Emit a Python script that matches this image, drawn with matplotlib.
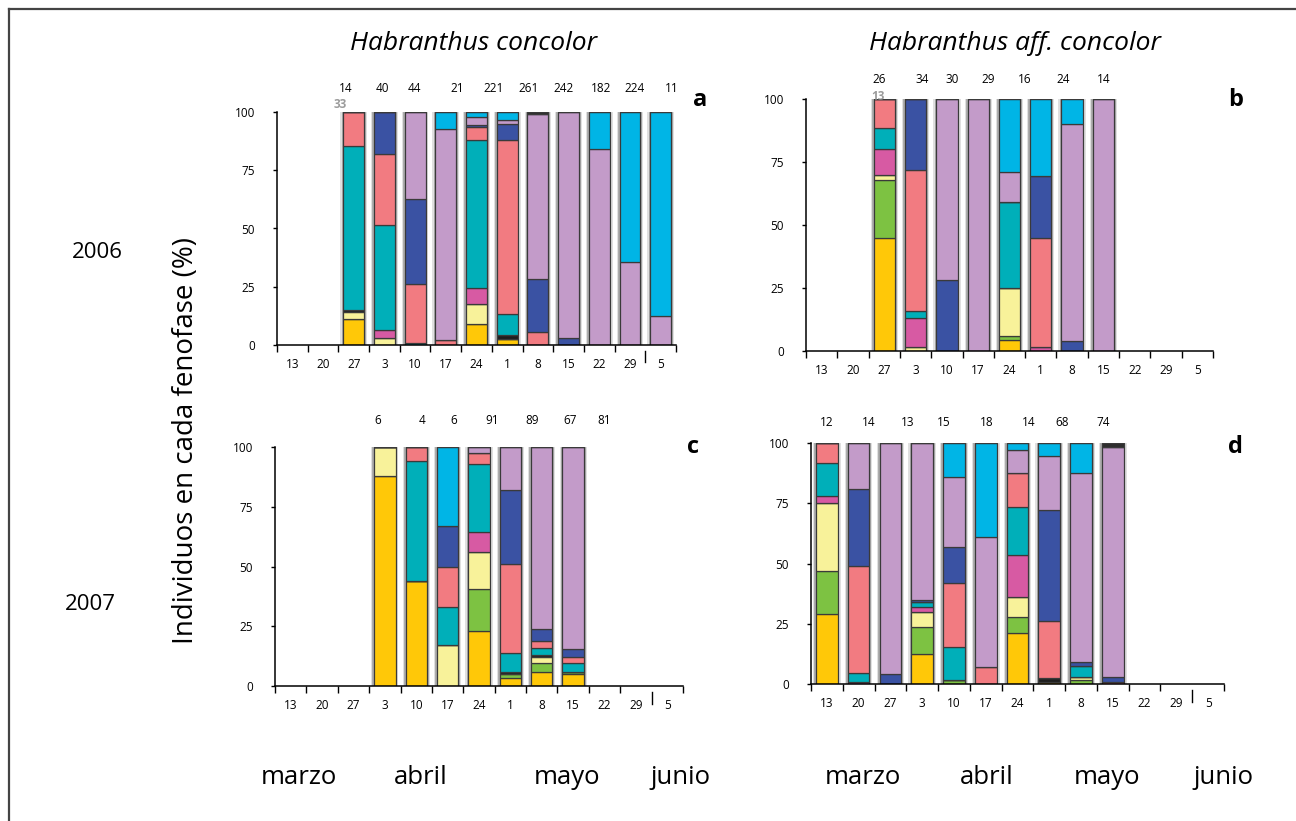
import numpy as np
import matplotlib
matplotlib.use("Agg")
import matplotlib.pyplot as plt
from matplotlib.lines import Line2D

# ---------------------------------------------------------------- data
weeks = ["13", "20", "27", "3", "10", "17", "24", "1", "8", "15", "22", "29", "5"]
months = ["marzo", "abril", "mayo", "junio"]
species = ["Habranthus concolor", "Habranthus aff. concolor"]
years = ["2006", "2007"]

# phenophases, stacked bottom -> top
phase_colors = ["#FFC808", "#7DC242", "#F8F29A", "#1E1E1E", "#D75AA3",
                "#00AFB9", "#F27B81", "#3A52A3", "#C39BC9", "#00B5E6",
                "#2E2E2E"]

# week index of each bar and % of individuals in each phenophase
weeks_a = [2, 3, 4, 5, 6, 7, 8, 9, 10, 11, 12]
pct_a = [
    [11, 0, 3, 1, 0, 70.5, 14.5, 0, 0, 0, 0],
    [0, 0, 3, 0, 3.5, 45, 30.5, 18, 0, 0, 0],
    [0, 0, 0, 0, 0, 1, 25, 36.5, 37.5, 0, 0],
    [0, 0, 0, 0, 0, 0, 2, 0, 90.5, 7.5, 0],
    [9, 0, 8.5, 0, 7, 63.5, 5.5, 1, 3.5, 2, 0],
    [2.5, 0, 0, 2, 0, 9, 74.5, 7, 1.5, 3.5, 0],
    [0, 0, 0, 0, 0, 0, 5.5, 23, 70.5, 0, 1],
    [0, 0, 0, 0, 0, 0, 0, 3, 97, 0, 0],
    [0, 0, 0, 0, 0, 0, 0, 0, 84, 16, 0],
    [0, 0, 0, 0, 0, 0, 0, 0, 35.5, 64.5, 0],
    [0, 0, 0, 0, 0, 0, 0, 0, 12.5, 87.5, 0],
]
counts_a = [14, 40, 44, 21, 221, 261, 242, 182, 224, 11]
extra_a = 33

weeks_b = [2, 3, 4, 5, 6, 7, 8, 9]
pct_b = [
    [45, 23, 2, 0, 10, 8.5, 11.5, 0, 0, 0, 0],
    [0, 0, 1.5, 0, 11.5, 3, 56, 28, 0, 0, 0],
    [0, 0, 0, 0, 0, 0, 0, 28, 72, 0, 0],
    [0, 0, 0, 0, 0, 0, 0, 0, 100, 0, 0],
    [4.5, 1.5, 19, 0, 0, 34, 0, 0, 12, 29, 0],
    [0, 0, 0, 0, 1.5, 0, 43.5, 24.5, 0, 30.5, 0],
    [0, 0, 0, 0, 0, 0, 0, 4, 86, 10, 0],
    [0, 0, 0, 0, 0, 0, 0, 0, 100, 0, 0],
]
counts_b = [26, 34, 30, 29, 16, 24, 14]
extra_b = 13

weeks_c = [3, 4, 5, 6, 7, 8, 9]
pct_c = [
    [88, 0, 12, 0, 0, 0, 0, 0, 0, 0, 0],
    [44, 0, 0, 0, 0, 50, 6, 0, 0, 0, 0],
    [0, 0, 17, 0, 0, 16, 17, 17, 0, 33, 0],
    [23, 17.5, 15.5, 0, 8.5, 28.5, 4.5, 0, 2.5, 0, 0],
    [3.5, 1.5, 0, 1, 0, 8, 37, 31, 18, 0, 0],
    [6, 3.5, 2.5, 1, 0, 3, 3, 5, 76, 0, 0],
    [5, 1, 0, 0, 0, 3.5, 2.5, 3.5, 84.5, 0, 0],
]
counts_c = [6, 4, 6, 91, 89, 67, 81]

weeks_d = [0, 1, 2, 3, 4, 5, 6, 7, 8, 9]
pct_d = [
    [29, 18, 28, 0, 3, 13.5, 8.5, 0, 0, 0, 0],
    [0, 0, 0, 0, 1, 3.5, 44.5, 32, 19, 0, 0],
    [0, 0, 0, 0, 0, 0, 0, 4, 96, 0, 0],
    [12.5, 11, 6.5, 0, 2, 2, 0, 1, 65, 0, 0],
    [0, 1.5, 0, 0, 0, 14, 26.5, 15, 29, 14, 0],
    [0, 0, 0, 0, 0, 0, 7, 0, 54, 39, 0],
    [21, 7, 8, 0, 17.5, 20, 14, 0, 9.5, 3, 0],
    [1, 0, 0, 1.5, 0, 0, 23.5, 46, 22.5, 5.5, 0],
    [0, 1.5, 1.5, 0, 0, 4.5, 0, 1.5, 78.5, 12.5, 0],
    [0, 0, 0, 0, 0, 0, 1, 2, 95.5, 0, 1.5],
]
counts_d = [12, 14, 13, 15, 18, 14, 68, 74]

# ---------------------------------------------------------------- style
plt.rcParams["font.family"] = ["Open Sans", "DejaVu Sans"]
W, H = 1296, 821
fig = plt.figure(figsize=(W / 100, H / 100), dpi=100)


def px_axes(x0, x1, ytop, ybot):
    return fig.add_axes([x0 / W, (H - ybot) / H, (x1 - x0) / W, (ybot - ytop) / H])


def fx(x):
    return x / W


def fy(y):
    return (H - y) / H


panels = [
    dict(box=(277, 676, 112, 345), weeks=weeks_a, pct=pct_a, counts=counts_a,
         count_x=[1.75, 2.92, 3.99, 5.36, 6.57, 7.71, 8.85, 10.05, 11.16, 12.37],
         count_y=107.3, extra=extra_a, extra_xy=(1.55, 100.6), letter="a",
         letter_xy=(700, 100), stray=True),
    dict(box=(806, 1213, 99, 351), weeks=weeks_b, pct=pct_b, counts=counts_b,
         count_x=[1.84, 3.21, 4.17, 5.32, 6.47, 7.72, 9.0],
         count_y=105.2, extra=extra_b, extra_xy=(1.81, 98.6), letter="b",
         letter_xy=(1236, 100), stray=False),
    dict(box=(275, 683, 447, 686), weeks=weeks_c, pct=pct_c, counts=counts_c,
         count_x=[2.78, 4.18, 5.2, 6.41, 7.68, 8.89, 9.98],
         count_y=108.4, extra=None, extra_xy=None, letter="c",
         letter_xy=(693, 447), stray=True),
    dict(box=(811, 1224, 443, 684), weeks=weeks_d, pct=pct_d, counts=counts_d,
         count_x=[0.0, 1.32, 2.55, 3.68, 5.03, 6.36, 7.39, 8.71],
         count_y=105.8, extra=None, extra_xy=None, letter="d",
         letter_xy=(1235, 447), stray=True),
]

bar_w = 0.68
for p in panels:
    ax = px_axes(*p["box"])
    ax.set_xlim(-0.5, 12.5)
    ax.set_ylim(0, 100)
    for s in ("top", "right"):
        ax.spines[s].set_visible(False)
    for s in ("left", "bottom"):
        ax.spines[s].set_linewidth(1.1)
        ax.spines[s].set_color("black")

    pct = np.array(p["pct"], dtype=float)
    xs = np.array(p["weeks"], dtype=float)
    # soft grey frame behind every bar
    ax.bar(xs, 102.8, bottom=-1.4, width=bar_w + 0.19, color="#e0e0e0",
           zorder=1, linewidth=0)
    ax.bar(xs, 101.8, bottom=-0.9, width=bar_w + 0.11, color="#adadad",
           zorder=1.5, linewidth=0)
    bottom = np.zeros(len(xs))
    for k, col in enumerate(phase_colors):
        h = pct[:, k]
        ax.bar(xs, h, bottom=bottom, width=bar_w, color=col,
               edgecolor="#3a3a3a", linewidth=0.9, zorder=2)
        bottom += h

    # sample sizes
    for cx, n in zip(p["count_x"], p["counts"]):
        ax.text(cx, p["count_y"], str(n), ha="center", va="bottom",
                fontsize=8.5, clip_on=False)
    if p["extra"] is not None:
        ex, ey = p["extra_xy"]
        ax.text(ex, ey, str(p["extra"]), ha="center", va="bottom",
                fontsize=8.5, color="#8a8a8a", fontweight="bold",
                clip_on=False, zorder=5, alpha=0.85)

    # axes ticks
    ax.set_yticks([0, 25, 50, 75, 100])
    ax.tick_params(axis="y", length=3, width=1, pad=13, labelsize=8.5)
    ax.set_xticks(np.arange(13))
    ax.set_xticklabels(weeks)
    ax.tick_params(axis="x", which="major", length=0, pad=9, labelsize=8.5)
    edges = np.arange(-0.5, 13, 1.0)
    if p["stray"]:
        edges = edges[np.abs(edges - 11.5) > 0.01]
    ax.set_xticks(edges, minor=True)
    ax.tick_params(axis="x", which="minor", length=5, width=1, direction="out")
    if p["stray"]:
        ax.plot([11.5, 11.5], [-0.025, -0.075], color="black", lw=1,
                transform=ax.get_xaxis_transform(), clip_on=False)

    lx, ly = p["letter_xy"]
    fig.text(fx(lx), fy(ly), p["letter"], fontsize=17, fontweight="bold",
             ha="center", va="center")

# column titles
fig.text(fx(474), fy(43), species[0], fontsize=19, style="italic",
         ha="center", va="center")
fig.text(fx(1015), fy(43), species[1], fontsize=19, style="italic",
         ha="center", va="center")

# row labels
fig.text(fx(97), fy(252), years[0], fontsize=16, ha="center", va="center")
fig.text(fx(90), fy(604), years[1], fontsize=16, ha="center", va="center")
fig.text(fx(186), fy(440), "Individuos en cada fenofase (%)", fontsize=20,
         rotation=90, ha="center", va="center")

# month labels under each column
for xs_m in ([299, 421, 567, 681], [863, 987, 1107, 1223]):
    for xm, m in zip(xs_m, months):
        fig.text(fx(xm), fy(777), m, fontsize=18.5, ha="center", va="center")

# outer frame
fig.add_artist(Line2D([fx(9), fx(9)], [fy(9), 0], color="#444444", lw=1.6))
fig.add_artist(Line2D([fx(9), 1], [fy(9), fy(9)], color="#444444", lw=1.6))

fig.savefig("out.png", dpi=100)
